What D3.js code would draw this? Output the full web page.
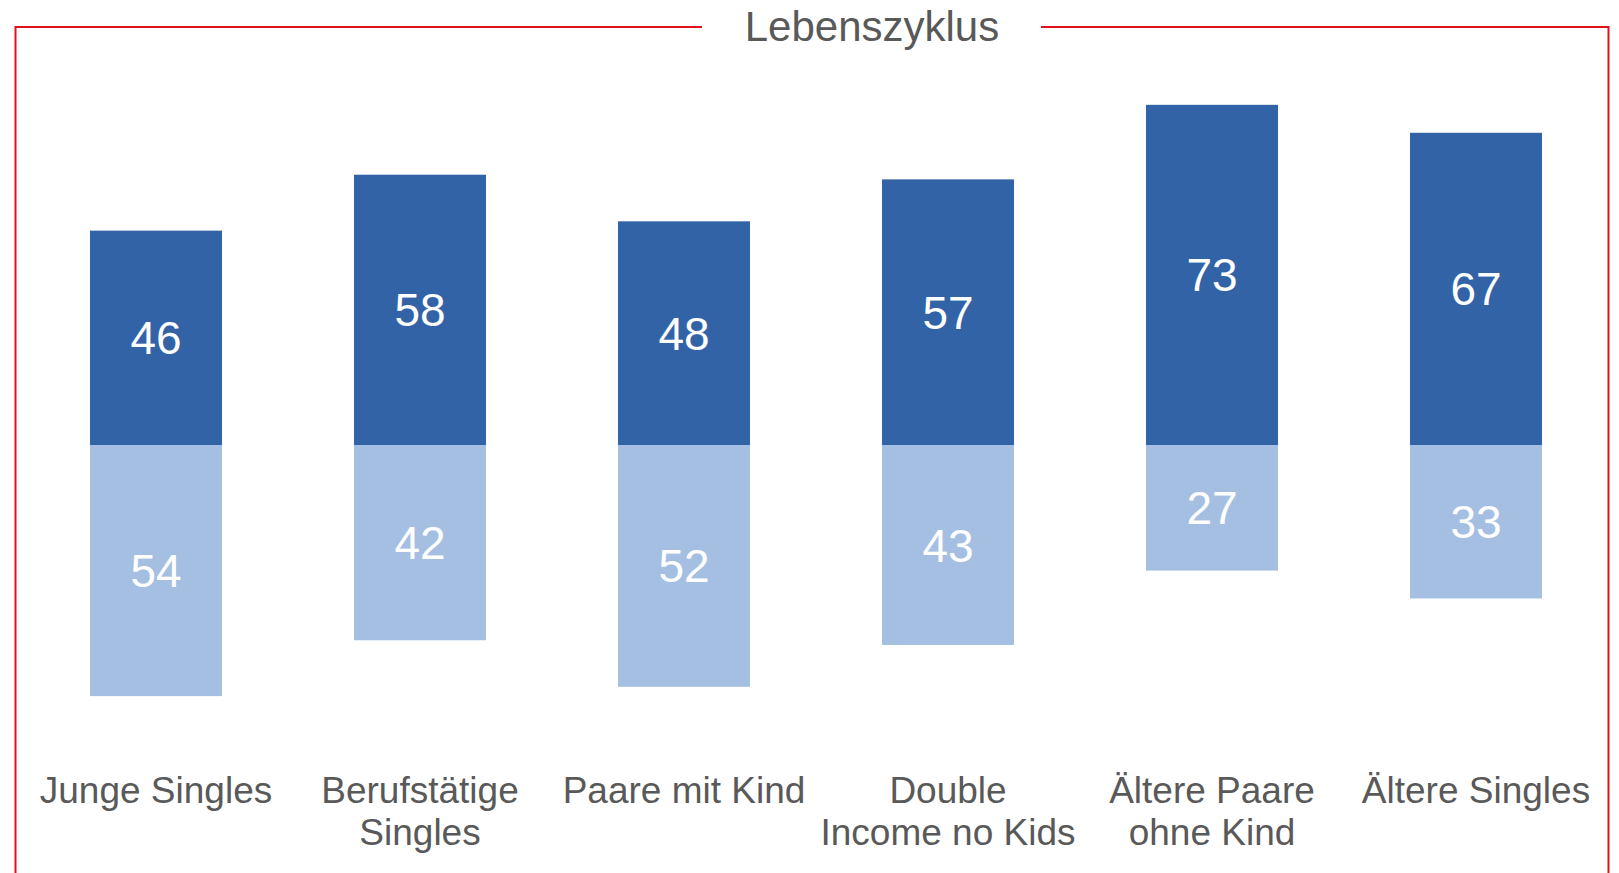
<!DOCTYPE html>
<html>
<head>
<meta charset="utf-8">
<script src="https://cdn.jsdelivr.net/npm/d3@7"></script>
<style>
  html, body { margin: 0; padding: 0; background: #fff; }
  svg { display: block; }
</style>
</head>
<body>
<svg id="chart" width="1619" height="873"></svg>
<script>
const title = "Lebenszyklus";
const categories = ["Junge Singles", "Berufstätige\nSingles", "Paare mit Kind", "Double\nIncome no Kids", "Ältere Paare\nohne Kind", "Ältere Singles"];
const upperValues = [46, 58, 48, 57, 73, 67];
const lowerValues = [54, 42, 52, 43, 27, 33];

const W = 1619, H = 873;
const svg = d3.select("#chart");
const textColor = "#595959";
const darkBlue = "#3263a6";
const lightBlue = "#a5bfe3";
const frameRed = "#e2101b";
const font = "'Liberation Sans', Arial, sans-serif";

const x = d3.scaleBand().domain(categories).range([24, 1608]).paddingInner(0.5).paddingOuter(0.25);
// zero line at y=445, 100 units = 466 px
const y = d3.scaleLinear().domain([-100, 0, 100]).range([445 + 465, 445, 445 - 466]);

// frame
const frameTop = 27, frameLeft = 15.5, frameRight = 1608.5;
const gapL = 702, gapR = 1041;
svg.append("path")
  .attr("d", `M${gapL},${frameTop} H${frameLeft} V${H + 10} M${gapR},${frameTop} H${frameRight} V${H + 10}`)
  .attr("fill", "none").attr("stroke", frameRed).attr("stroke-width", 2);

svg.append("text")
  .attr("x", (gapL + gapR) / 2 + 0.5).attr("y", 41)
  .attr("text-anchor", "middle")
  .attr("font-family", font).attr("font-size", 42)
  .attr("fill", textColor).text(title);

const data = categories.map((c, i) => ({ c, up: upperValues[i], low: lowerValues[i] }));

const g = svg.append("g");
// upper (dark) segments
g.selectAll("rect.up").data(data).join("rect").attr("class", "up")
  .attr("x", d => x(d.c)).attr("width", x.bandwidth())
  .attr("y", d => y(d.up)).attr("height", d => y(0) - y(d.up))
  .attr("fill", darkBlue);
// lower (light) segments
g.selectAll("rect.low").data(data).join("rect").attr("class", "low")
  .attr("x", d => x(d.c)).attr("width", x.bandwidth())
  .attr("y", y(0)).attr("height", d => y(-d.low) - y(0))
  .attr("fill", lightBlue);

// value labels
g.selectAll("text.up").data(data).join("text").attr("class", "up")
  .attr("x", d => x(d.c) + x.bandwidth() / 2)
  .attr("y", d => (y(d.up) + y(0)) / 2)
  .attr("dy", "0.36em")
  .attr("text-anchor", "middle").attr("font-family", font).attr("font-size", 46)
  .attr("fill", "#fff").text(d => d.up);
g.selectAll("text.low").data(data).join("text").attr("class", "low")
  .attr("x", d => x(d.c) + x.bandwidth() / 2)
  .attr("y", d => (y(-d.low) + y(0)) / 2)
  .attr("dy", "0.36em")
  .attr("text-anchor", "middle").attr("font-family", font).attr("font-size", 46)
  .attr("fill", "#fff").text(d => d.low);

// category labels via axis
const axis = d3.axisBottom(x).tickSize(0).tickPadding(0);
const ax = svg.append("g").attr("transform", "translate(0,0)").call(axis);
ax.select(".domain").remove();
ax.selectAll(".tick text").each(function(d) {
  const t = d3.select(this);
  t.text(null).attr("y", 0).attr("dy", null)
    .attr("font-family", font).attr("font-size", 37).attr("fill", textColor);
  d.split("\n").forEach((line, i) => {
    t.append("tspan").attr("x", 0).attr("y", 803 + i * 42).text(line);
  });
});
</script>
</body>
</html>
